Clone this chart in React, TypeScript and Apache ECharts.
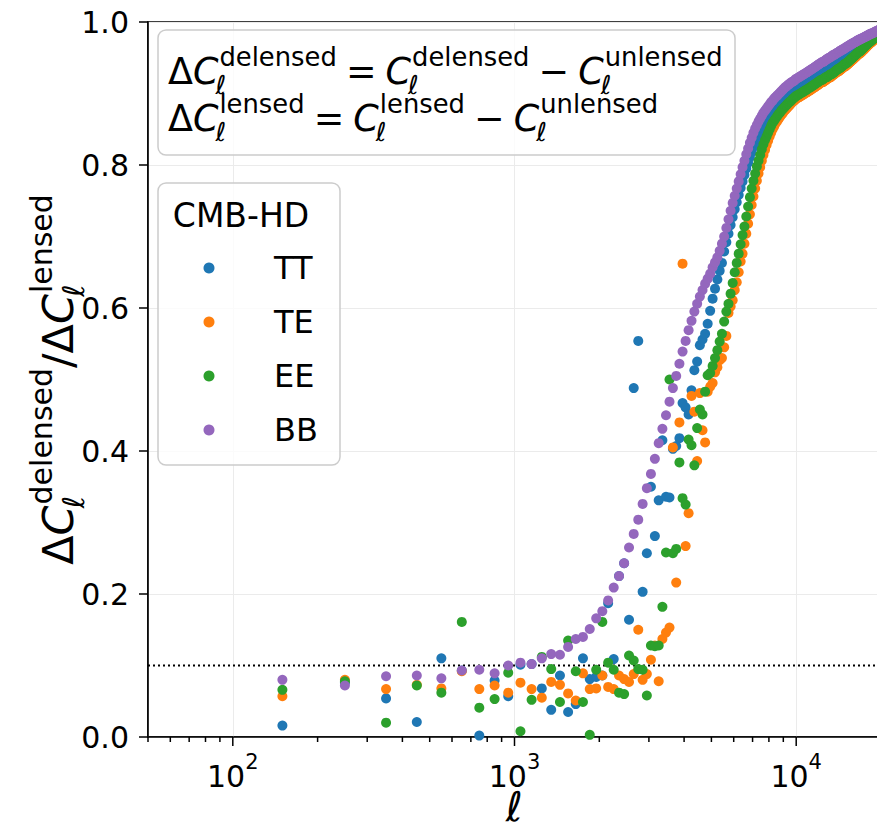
import { useEffect, useRef } from 'react';
import * as echarts from 'echarts';

// ---------- data ----------
// multipole bin centres (bins of width 100 from 100 to 20000)
const ELL_FIRST = 150;
const ELL_STEP = 100;
const ELL_COUNT = 199;
const ELL: number[] = Array.from({ length: ELL_COUNT }, (_, i) => ELL_FIRST + ELL_STEP * i);

const SERIES_NAMES = ['TT', 'TE', 'EE', 'BB'];
const COLORS = ['#1f77b4', '#ff7f0e', '#2ca02c', '#9467bd'];

// bins 150 .. 5550
const TT_LOW = [
  0.016, 0.076, 0.054, 0.021, 0.110, 0.093, 0.002, 0.079, 0.057, 0.101,
  0.102, 0.068, 0.038, 0.086, 0.035, 0.046, 0.110, 0.081, 0.084, 0.086,
  0.187, 0.109, 0.225, 0.243, 0.164, 0.488, 0.554, 0.203, 0.257, 0.350,
  0.281, 0.331, 0.415, 0.336, 0.335, 0.403, 0.407, 0.418, 0.467, 0.461,
  0.451, 0.485, 0.513, 0.525, 0.548, 0.556, 0.564, 0.578, 0.596, 0.613,
  0.627, 0.640, 0.652, 0.663, 0.679,
];
const TE_LOW = [
  0.057, 0.080, 0.067, 0.073, 0.068, 0.092, 0.067, 0.072, 0.062, 0.076,
  0.067, 0.055, 0.077, 0.073, 0.061, 0.051, 0.089, 0.067, 0.068, 0.086,
  0.070, 0.067, 0.086, 0.081, 0.077, 0.088, 0.150, 0.080, 0.088, 0.108,
  0.128, 0.078, 0.137, 0.146, 0.153, 0.405, 0.216, 0.440, 0.662, 0.267,
  0.313, 0.477, 0.455, 0.386, 0.481, 0.429, 0.412, 0.483, 0.490, 0.495,
  0.510, 0.517, 0.527, 0.530, 0.545,
];
const EE_LOW = [
  0.066, 0.078, 0.020, 0.072, 0.062, 0.161, 0.041, 0.053, 0.090, 0.008,
  0.052, 0.112, 0.095, 0.049, 0.135, 0.092, 0.049, 0.003, 0.094, 0.161,
  0.104, 0.094, 0.062, 0.060, 0.114, 0.107, 0.095, 0.094, 0.058, 0.128,
  0.127, 0.128, 0.182, 0.258, 0.500, 0.257, 0.263, 0.384, 0.334, 0.325,
  0.416, 0.408, 0.380, 0.432, 0.458, 0.451, 0.483, 0.506, 0.509, 0.519,
  0.530, 0.541, 0.553, 0.564, 0.581,
];
const BB_LOW = [
  0.080, 0.072, 0.085, 0.086, 0.082, 0.093, 0.094, 0.089, 0.100, 0.104,
  0.102, 0.110, 0.116, 0.115, 0.126, 0.137, 0.140, 0.151, 0.166, 0.176,
  0.191, 0.209, 0.225, 0.243, 0.265, 0.284, 0.304, 0.326, 0.348, 0.368,
  0.389, 0.411, 0.431, 0.450, 0.469, 0.488, 0.505, 0.522, 0.539, 0.554,
  0.569, 0.582, 0.595, 0.606, 0.616, 0.625, 0.634, 0.641, 0.648, 0.657,
  0.664, 0.671, 0.680, 0.690, 0.700,
];

// bins 5650 .. 19950
const TT_HIGH = [
  0.692, 0.704, 0.716, 0.727,
  0.738, 0.748, 0.758, 0.768, 0.777, 0.786, 0.795, 0.803, 0.811, 0.818,
  0.825, 0.831, 0.837, 0.842, 0.847, 0.852, 0.856, 0.860, 0.864, 0.867,
  0.870, 0.873, 0.876, 0.879, 0.881, 0.884, 0.886, 0.888, 0.890, 0.892,
  0.894, 0.896, 0.898, 0.900, 0.901, 0.903, 0.904, 0.906, 0.907, 0.909,
  0.910, 0.911, 0.912, 0.913, 0.914, 0.915, 0.916, 0.917, 0.918, 0.919,
  0.920, 0.921, 0.922, 0.923, 0.924, 0.925, 0.926, 0.927, 0.928, 0.929,
  0.930, 0.931, 0.932, 0.933, 0.934, 0.935, 0.936, 0.937, 0.938, 0.939,
  0.940, 0.940, 0.941, 0.942, 0.943, 0.944, 0.945, 0.945, 0.946, 0.947,
  0.948, 0.949, 0.949, 0.950, 0.951, 0.952, 0.952, 0.953, 0.954, 0.955,
  0.955, 0.956, 0.957, 0.957, 0.958, 0.959, 0.960, 0.960, 0.961, 0.962,
  0.962, 0.963, 0.964, 0.964, 0.965, 0.966, 0.966, 0.967, 0.968, 0.968,
  0.969, 0.970, 0.970, 0.971, 0.971, 0.972, 0.973, 0.973, 0.974, 0.974,
  0.975, 0.975, 0.976, 0.977, 0.977, 0.978, 0.978, 0.979, 0.979, 0.980,
  0.980, 0.981, 0.981, 0.982, 0.982, 0.983, 0.983, 0.984, 0.984, 0.985,
];
const TE_HIGH = [
  0.561, 0.593, 0.602, 0.611,
  0.625, 0.636, 0.650, 0.665, 0.676, 0.690, 0.704, 0.718, 0.731, 0.744,
  0.756, 0.767, 0.778, 0.788, 0.797, 0.806, 0.814, 0.821, 0.828, 0.834,
  0.840, 0.845, 0.850, 0.854, 0.858, 0.861, 0.864, 0.867, 0.870, 0.872,
  0.875, 0.877, 0.879, 0.881, 0.883, 0.885, 0.887, 0.889, 0.890, 0.892,
  0.893, 0.894, 0.895, 0.896, 0.897, 0.898, 0.899, 0.900, 0.901, 0.902,
  0.903, 0.904, 0.905, 0.906, 0.907, 0.908, 0.909, 0.910, 0.911, 0.912,
  0.913, 0.914, 0.915, 0.916, 0.916, 0.917, 0.918, 0.919, 0.920, 0.921,
  0.922, 0.922, 0.923, 0.924, 0.925, 0.926, 0.927, 0.928, 0.929, 0.930,
  0.931, 0.931, 0.932, 0.933, 0.934, 0.935, 0.936, 0.937, 0.938, 0.938,
  0.939, 0.940, 0.941, 0.942, 0.943, 0.944, 0.945, 0.946, 0.947, 0.948,
  0.949, 0.950, 0.951, 0.952, 0.953, 0.954, 0.955, 0.956, 0.956, 0.957,
  0.958, 0.959, 0.960, 0.961, 0.962, 0.963, 0.964, 0.965, 0.966, 0.967,
  0.968, 0.969, 0.970, 0.971, 0.971, 0.972, 0.973, 0.974, 0.975, 0.975,
  0.976, 0.977, 0.977, 0.978, 0.979, 0.979, 0.980, 0.980, 0.981, 0.981,
];
const EE_HIGH = [
  0.595, 0.606, 0.620, 0.635,
  0.650, 0.663, 0.676, 0.689, 0.702, 0.714, 0.728, 0.742, 0.755, 0.767,
  0.778, 0.788, 0.798, 0.806, 0.814, 0.822, 0.829, 0.835, 0.840, 0.845,
  0.850, 0.855, 0.859, 0.862, 0.865, 0.868, 0.871, 0.873, 0.876, 0.878,
  0.880, 0.882, 0.884, 0.886, 0.888, 0.889, 0.891, 0.893, 0.894, 0.896,
  0.897, 0.898, 0.899, 0.900, 0.901, 0.902, 0.903, 0.904, 0.905, 0.906,
  0.907, 0.908, 0.909, 0.910, 0.911, 0.912, 0.913, 0.914, 0.915, 0.916,
  0.917, 0.918, 0.919, 0.919, 0.920, 0.921, 0.922, 0.923, 0.923, 0.924,
  0.925, 0.926, 0.927, 0.927, 0.928, 0.929, 0.930, 0.931, 0.932, 0.933,
  0.934, 0.935, 0.935, 0.936, 0.937, 0.938, 0.939, 0.940, 0.941, 0.942,
  0.942, 0.943, 0.944, 0.945, 0.946, 0.947, 0.948, 0.949, 0.950, 0.951,
  0.952, 0.953, 0.954, 0.955, 0.956, 0.957, 0.958, 0.959, 0.959, 0.960,
  0.961, 0.962, 0.963, 0.964, 0.965, 0.966, 0.967, 0.968, 0.969, 0.970,
  0.971, 0.972, 0.972, 0.973, 0.974, 0.975, 0.975, 0.976, 0.977, 0.977,
  0.978, 0.979, 0.979, 0.980, 0.981, 0.981, 0.982, 0.982, 0.983, 0.983,
];
const BB_HIGH = [
  0.712, 0.724, 0.736, 0.747,
  0.757, 0.767, 0.777, 0.787, 0.797, 0.806, 0.815, 0.823, 0.831, 0.838,
  0.845, 0.851, 0.856, 0.861, 0.865, 0.869, 0.873, 0.876, 0.879, 0.882,
  0.885, 0.888, 0.890, 0.893, 0.895, 0.897, 0.899, 0.901, 0.903, 0.905,
  0.907, 0.909, 0.910, 0.912, 0.913, 0.915, 0.916, 0.917, 0.918, 0.920,
  0.921, 0.922, 0.923, 0.924, 0.925, 0.926, 0.927, 0.928, 0.929, 0.930,
  0.931, 0.932, 0.933, 0.934, 0.935, 0.936, 0.937, 0.938, 0.939, 0.940,
  0.941, 0.942, 0.943, 0.944, 0.944, 0.945, 0.946, 0.947, 0.948, 0.949,
  0.950, 0.950, 0.951, 0.952, 0.953, 0.954, 0.954, 0.955, 0.956, 0.957,
  0.957, 0.958, 0.959, 0.960, 0.960, 0.961, 0.962, 0.962, 0.963, 0.964,
  0.965, 0.965, 0.966, 0.967, 0.967, 0.968, 0.969, 0.969, 0.970, 0.971,
  0.971, 0.972, 0.972, 0.973, 0.974, 0.974, 0.975, 0.975, 0.976, 0.976,
  0.977, 0.977, 0.978, 0.978, 0.979, 0.979, 0.980, 0.980, 0.981, 0.981,
  0.982, 0.982, 0.983, 0.983, 0.984, 0.984, 0.984, 0.985, 0.985, 0.986,
  0.986, 0.987, 0.987, 0.987, 0.988, 0.988, 0.989, 0.989, 0.989, 0.990,
];

const TT = [...TT_LOW, ...TT_HIGH];
const TE = [...TE_LOW, ...TE_HIGH];
const EE = [...EE_LOW, ...EE_HIGH];
const BB = [...BB_LOW, ...BB_HIGH];
const SERIES_VALUES = [TT, TE, EE, BB];

const THRESHOLD = 0.1;
const X_MIN = 50;
const X_MAX = 20000;
const X_MAJOR_TICKS = [100, 1000, 10000];
const X_MINOR_TICKS = [
  50, 60, 70, 80, 90,
  200, 300, 400, 500, 600, 700, 800, 900,
  2000, 3000, 4000, 5000, 6000, 7000, 8000, 9000,
  20000,
];
const Y_MIN = 0;
const Y_MAX = 1;
const Y_INTERVAL = 0.2;

// ---------- text helpers ----------
const FAMILY = '"DejaVu Sans", "Noto Sans", sans-serif';
let measureCtx: CanvasRenderingContext2D | null = null;
function textWidth(t: string, size: number, italic: boolean): number {
  if (!measureCtx) measureCtx = document.createElement('canvas').getContext('2d');
  if (!measureCtx) return t.length * size * 0.6;
  measureCtx.font = `${italic ? 'italic ' : ''}${size}px ${FAMILY}`;
  return measureCtx.measureText(t).width;
}
function textEl(t: string, x: number, baseline: number, size: number, italic: boolean) {
  return {
    type: 'text',
    x,
    y: baseline - 0.346 * size,
    z: 100,
    silent: true,
    style: {
      text: t,
      font: `${italic ? 'italic ' : ''}${size}px ${FAMILY}`,
      fill: '#000',
      textAlign: 'left',
      align: 'left',
      textVerticalAlign: 'middle',
      verticalAlign: 'middle',
    },
  };
}
type Tok = { t: string; it?: boolean; sup?: string; sub?: string; sp?: number };
function layoutMath(tokens: Tok[], M: number, S: number) {
  const els: any[] = [];
  let x = 0;
  for (const tok of tokens) {
    els.push(textEl(tok.t, x, 0, M, !!tok.it));
    x += textWidth(tok.t, M, !!tok.it);
    let w2 = 0;
    if (tok.sup) {
      els.push(textEl(tok.sup, x + 1, -0.5 * M, S, false));
      w2 = Math.max(w2, textWidth(tok.sup, S, false) + 1);
    }
    if (tok.sub) {
      els.push(textEl(tok.sub, x - 3, 0.26 * M, S, true));
      w2 = Math.max(w2, textWidth(tok.sub, S, true) - 3);
    }
    x += w2 + (tok.sp || 0) * M;
  }
  return { els, width: x };
}

function buildGraphics() {
  const g: any[] = [];
  // formula box
  g.push({
    type: 'rect', z: 99, silent: true,
    shape: { x: 158, y: 30, width: 577, height: 125, r: 8 },
    style: { fill: 'rgba(255,255,255,0.8)', stroke: '#cccccc', lineWidth: 1.5 },
  });
  const M1 = 36.5, S1 = 25.8;
  const line1 = layoutMath([
    { t: 'Δ' },
    { t: 'C', it: true, sup: 'delensed', sub: 'ℓ', sp: 0.25 },
    { t: '=', sp: 0.25 },
    { t: 'C', it: true, sup: 'delensed', sub: 'ℓ', sp: 0.25 },
    { t: '−', sp: 0.25 },
    { t: 'C', it: true, sup: 'unlensed', sub: 'ℓ' },
  ], M1, S1);
  g.push({ type: 'group', x: 168, y: 84, z: 100, children: line1.els });
  const line2 = layoutMath([
    { t: 'Δ' },
    { t: 'C', it: true, sup: 'lensed', sub: 'ℓ', sp: 0.25 },
    { t: '=', sp: 0.25 },
    { t: 'C', it: true, sup: 'lensed', sub: 'ℓ', sp: 0.25 },
    { t: '−', sp: 0.25 },
    { t: 'C', it: true, sup: 'unlensed', sub: 'ℓ' },
  ], M1, S1);
  g.push({ type: 'group', x: 168, y: 131, z: 100, children: line2.els });

  // series legend box
  g.push({
    type: 'rect', z: 99, silent: true,
    shape: { x: 158, y: 183, width: 182, height: 282, r: 8 },
    style: { fill: 'rgba(255,255,255,0.8)', stroke: '#cccccc', lineWidth: 1.5 },
  });
  g.push({
    type: 'text', x: 241, y: 215, z: 100, silent: true,
    style: { text: 'CMB-HD', font: `33px ${FAMILY}`, fill: '#000', textAlign: 'center', align: 'center', textVerticalAlign: 'middle', verticalAlign: 'middle' },
  });
  SERIES_NAMES.forEach((name, i) => {
    const cy = 268 + i * 54;
    g.push({ type: 'circle', z: 100, silent: true, shape: { cx: 209, cy, r: 5.5 }, style: { fill: COLORS[i] } });
    g.push({
      type: 'text', x: 274, y: cy, z: 100, silent: true,
      style: { text: name, font: `32px ${FAMILY}`, fill: '#000', textAlign: 'left', align: 'left', textVerticalAlign: 'middle', verticalAlign: 'middle' },
    });
  });

  // y-axis label (rotated)
  const M2 = 43, S2 = 30;
  const ylab = layoutMath([
    { t: 'Δ' },
    { t: 'C', it: true, sup: 'delensed', sub: 'ℓ' },
    { t: '/' },
    { t: 'Δ' },
    { t: 'C', it: true, sup: 'lensed', sub: 'ℓ' },
  ], M2, S2);
  g.push({
    type: 'group', x: 73, y: 379.5 + ylab.width / 2, rotation: Math.PI / 2, z: 100,
    children: ylab.els,
  });

  // x-axis label
  g.push({
    type: 'text', x: 514.5, y: 821 - 0.346 * 41, z: 100, silent: true,
    style: { text: 'ℓ', font: `italic 41px ${FAMILY}`, fill: '#000', textAlign: 'center', align: 'center', textVerticalAlign: 'middle', verticalAlign: 'middle' },
  });
  return g;
}

export default function App() {
  const ref = useRef<HTMLDivElement>(null);
  useEffect(() => {
    document.body.style.margin = '0';
    if (!ref.current) return;
    const chart = echarts.init(ref.current, undefined, { renderer: 'svg' });

    const scatterSeries = SERIES_NAMES.map((name, k) => ({
      type: 'scatter',
      name,
      data: ELL.map((l, i) => [l, SERIES_VALUES[k][i]]),
      symbol: 'circle',
      symbolSize: 10,
      itemStyle: { color: COLORS[k], opacity: 1 },
      clip: true,
      silent: true,
      z: 3,
    }));

    const tickData = [
      ...X_MAJOR_TICKS.map((v) => [v, 0, 9]),
      ...X_MINOR_TICKS.map((v) => [v, 0, 5]),
    ];

    const option: any = {
      animation: false,
      backgroundColor: '#ffffff',
      textStyle: { fontFamily: FAMILY },
      grid: {
        left: 148, right: -4, top: 22, bottom: 94,
        outerBoundsMode: 'none',
        containLabel: false,
        show: true, borderColor: '#000', borderWidth: 1.6, backgroundColor: 'transparent',
      },
      xAxis: {
        type: 'log', logBase: 10, min: X_MIN, max: X_MAX,
        axisLine: { show: true, onZero: false, lineStyle: { color: '#000', width: 1.6 } },
        axisTick: { show: false },
        minorTick: { show: false },
        axisLabel: {
          margin: 14,
          color: '#000',
          formatter: (v: number) => {
            const lg = Math.log10(v);
            const e = Math.round(lg);
            if (Math.abs(lg - e) > 1e-6) return '';
            return `{b|10}{s|${e}}`;
          },
          rich: {
            b: { fontSize: 30, fontFamily: FAMILY, color: '#000', lineHeight: 40, verticalAlign: 'bottom' },
            s: { fontSize: 21, fontFamily: FAMILY, color: '#000', lineHeight: 21, verticalAlign: 'top' },
          },
        },
        splitLine: { show: true, lineStyle: { color: '#ebebeb', width: 1 } },
      },
      yAxis: {
        type: 'value', min: Y_MIN, max: Y_MAX, interval: Y_INTERVAL,
        axisLine: { show: true, lineStyle: { color: '#000', width: 1.6 } },
        axisTick: { show: true, length: 9, lineStyle: { color: '#000', width: 1.5 } },
        axisLabel: {
          margin: 19, color: '#000', fontSize: 30, fontFamily: FAMILY,
          formatter: (v: number) => v.toFixed(1),
        },
        splitLine: { show: true, lineStyle: { color: '#ebebeb', width: 1 } },
      },
      series: [
        {
          type: 'line',
          data: [[X_MIN, THRESHOLD], [X_MAX, THRESHOLD]],
          symbol: 'none',
          silent: true,
          lineStyle: { color: '#000', width: 2, type: [2, 3] },
          z: 2,
        },
        ...scatterSeries,
        {
          type: 'custom',
          coordinateSystem: 'cartesian2d',
          data: tickData,
          encode: { x: 0, y: 1 },
          clip: false,
          silent: true,
          z: 10,
          renderItem: (_params: any, api: any) => {
            const p = api.coord([api.value(0), api.value(1)]);
            const len = api.value(2);
            return {
              type: 'line',
              shape: { x1: p[0], y1: p[1], x2: p[0], y2: p[1] + len },
              style: { stroke: '#000', lineWidth: 1.5 },
            };
          },
        },
      ],
      graphic: buildGraphics(),
    };
    chart.setOption(option);
    return () => chart.dispose();
  }, []);
  return (
    <div
      ref={ref}
      style={{ position: 'fixed', left: 0, top: 0, width: 877, height: 831, background: '#fff' }}
    />
  );
}
